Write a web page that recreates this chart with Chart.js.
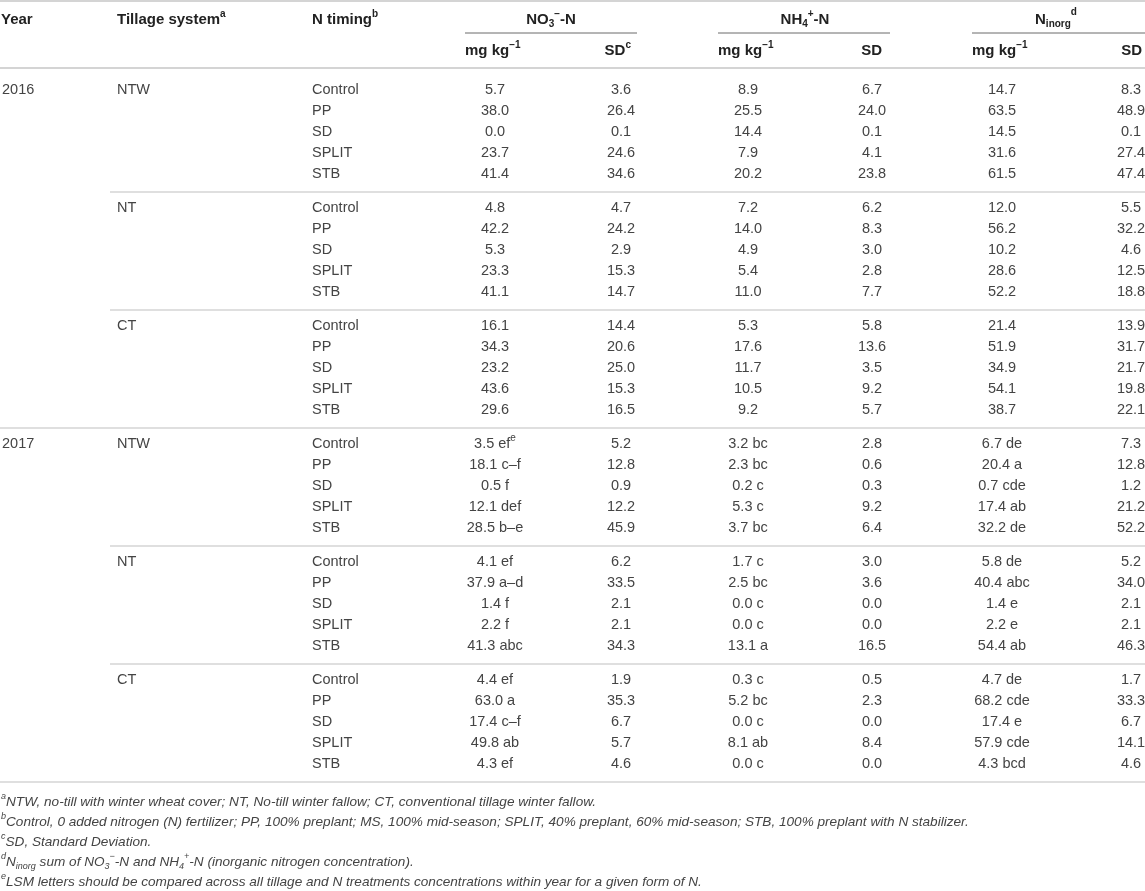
<!DOCTYPE html>
<html>
<head>
<meta charset="utf-8">
<script src="https://cdn.jsdelivr.net/npm/chart.js@4.4.1/dist/chart.umd.min.js"></script>
<style>
  html, body { margin: 0; padding: 0; background: #fff; }
  canvas { display: block; }
</style>
</head>
<body>
<canvas id="tbl" width="1145" height="891"></canvas>
<script>
const years = ["2016", "2017"];
const tillages = ["NTW", "NT", "CT"];
const timings = ["Control", "PP", "SD", "SPLIT", "STB"];

// 30 rows: 2016 NTW, NT, CT then 2017 NTW, NT, CT (Control, PP, SD, SPLIT, STB each)
const no3 = [5.7, 38.0, 0.0, 23.7, 41.4, 4.8, 42.2, 5.3, 23.3, 41.1, 16.1, 34.3, 23.2, 43.6, 29.6,
             3.5, 18.1, 0.5, 12.1, 28.5, 4.1, 37.9, 1.4, 2.2, 41.3, 4.4, 63.0, 17.4, 49.8, 4.3];
const no3Sd = [3.6, 26.4, 0.1, 24.6, 34.6, 4.7, 24.2, 2.9, 15.3, 14.7, 14.4, 20.6, 25.0, 15.3, 16.5,
               5.2, 12.8, 0.9, 12.2, 45.9, 6.2, 33.5, 2.1, 2.1, 34.3, 1.9, 35.3, 6.7, 5.7, 4.6];
const nh4 = [8.9, 25.5, 14.4, 7.9, 20.2, 7.2, 14.0, 4.9, 5.4, 11.0, 5.3, 17.6, 11.7, 10.5, 9.2,
             3.2, 2.3, 0.2, 5.3, 3.7, 1.7, 2.5, 0.0, 0.0, 13.1, 0.3, 5.2, 0.0, 8.1, 0.0];
const nh4Sd = [6.7, 24.0, 0.1, 4.1, 23.8, 6.2, 8.3, 3.0, 2.8, 7.7, 5.8, 13.6, 3.5, 9.2, 5.7,
               2.8, 0.6, 0.3, 9.2, 6.4, 3.0, 3.6, 0.0, 0.0, 16.5, 0.5, 2.3, 0.0, 8.4, 0.0];
const ninorg = [14.7, 63.5, 14.5, 31.6, 61.5, 12.0, 56.2, 10.2, 28.6, 52.2, 21.4, 51.9, 34.9, 54.1, 38.7,
                6.7, 20.4, 0.7, 17.4, 32.2, 5.8, 40.4, 1.4, 2.2, 54.4, 4.7, 68.2, 17.4, 57.9, 4.3];
const ninorgSd = [8.3, 48.9, 0.1, 27.4, 47.4, 5.5, 32.2, 4.6, 12.5, 18.8, 13.9, 31.7, 21.7, 19.8, 22.1,
                  7.3, 12.8, 1.2, 21.2, 52.2, 5.2, 34.0, 2.1, 2.1, 46.3, 1.7, 33.3, 6.7, 14.1, 4.6];
// LSM letters (2017 only)
const no3Lsm = ["", "", "", "", "", "", "", "", "", "", "", "", "", "", "",
                "ef", "c–f", "f", "def", "b–e", "ef", "a–d", "f", "f", "abc", "ef", "a", "c–f", "ab", "ef"];
const nh4Lsm = ["", "", "", "", "", "", "", "", "", "", "", "", "", "", "",
                "bc", "bc", "c", "c", "bc", "c", "bc", "c", "c", "a", "c", "bc", "c", "ab", "c"];
const ninorgLsm = ["", "", "", "", "", "", "", "", "", "", "", "", "", "", "",
                   "de", "a", "cde", "ab", "de", "de", "abc", "e", "e", "ab", "de", "cde", "e", "cde", "bcd"];

// layout
const W = 1145, H = 891;
const colX = [495, 621, 748, 872, 1002, 1131];
const rowY = i => { let g = Math.floor(i / 5); return 90 + 118 * g + 21 * (i % 5); };

function cellParts(v, lsm, i, k) {
    let t = v.toFixed(1) + (lsm ? " " + lsm : "");
    let p = [[t, ""]];
    if (i == 15 && k == 0) p.push(["e", "sup"]);   // footnote marker, first 2017 NO3 cell only
    return p;
}

// build text points from the arrays
let cells = [];
for (let i = 0; i < 30; i++) {
    let y = rowY(i);
    if (i % 15 == 0) cells.push({x: 2, y: y, parts: [[years[i / 15], ""]], align: "left"});
    if (i % 5 == 0) cells.push({x: 117, y: y, parts: [[tillages[Math.floor(i / 5) % 3], ""]], align: "left"});
    cells.push({x: 312, y: y, parts: [[timings[i % 5], ""]], align: "left"});
    let cols = [[no3[i], no3Lsm[i]], [no3Sd[i], ""], [nh4[i], nh4Lsm[i]], [nh4Sd[i], ""],
                [ninorg[i], ninorgLsm[i]], [ninorgSd[i], ""]];
    cols.forEach((c, k) => {
        cells.push({x: colX[k], y: y, parts: cellParts(c[0], c[1], i, k), align: "center"});
    });
}

// header cells
let heads = [
    {x: 1, y: 20, parts: [["Year", ""]], align: "left"},
    {x: 117, y: 20, parts: [["Tillage system", ""], ["a", "sup"]], align: "left"},
    {x: 312, y: 20, parts: [["N timing", ""], ["b", "sup"]], align: "left"},
    {x: 551, y: 20, parts: [["NO", ""], ["3", "sub"], ["−", "sup"], ["-N", ""]], align: "center"},
    {x: 805, y: 20, parts: [["NH", ""], ["4", "sub"], ["+", "sup"], ["-N", ""]], align: "center"},
    {x: 1056, y: 20, parts: [["N", ""], ["inorg", "sub"], ["d", "supw"]], align: "center"},
    {x: 465, y: 51, parts: [["mg kg", ""], ["−1", "sup"]], align: "left"},
    {x: 631, y: 51, parts: [["SD", ""], ["c", "sup"]], align: "right"},
    {x: 718, y: 51, parts: [["mg kg", ""], ["−1", "sup"]], align: "left"},
    {x: 882, y: 51, parts: [["SD", ""]], align: "right"},
    {x: 972, y: 51, parts: [["mg kg", ""], ["−1", "sup"]], align: "left"},
    {x: 1142, y: 51, parts: [["SD", ""]], align: "right"},
];

let notes = [
    [["a", "sup"], ["NTW, no-till with winter wheat cover; NT, No-till winter fallow; CT, conventional tillage winter fallow.", ""]],
    [["b", "sup"], ["Control, 0 added nitrogen (N) fertilizer; PP, 100% preplant; MS, 100% mid-season; SPLIT, 40% preplant, 60% mid-season; STB, 100% preplant with N stabilizer.", ""]],
    [["c", "sup"], ["SD, Standard Deviation.", ""]],
    [["d", "sup"], ["N", ""], ["inorg", "sub"], [" sum of NO", ""], ["3", "sub"], ["−", "sup"], ["-N and NH", ""], ["4", "sub"], ["+", "sup"], ["-N (inorganic nitrogen concentration).", ""]],
    [["e", "sup"], ["LSM letters should be compared across all tillage and N treatments concentrations within year for a given form of N.", ""]],
];
let noteCells = notes.map((p, k) => ({x: 1, y: 802 + 20 * k, parts: p, align: "left"}));

function fontFor(kind, size, weight, style) {
    let s = (kind == "" ? size : Math.round(size * 0.68));
    return (style || "") + " " + (weight || "normal") + " " + s + "px 'Liberation Sans', Arial, sans-serif";
}

function drawRich(ctx, parts, x, y, align, size, weight, style) {
    let widths = parts.map(p => { ctx.font = fontFor(p[1], size, weight, style); return ctx.measureText(p[0]).width; });
    let total = widths.reduce((a, b) => a + b, 0);
    let cx = align == "center" ? x - total / 2 : (align == "right" ? x - total : x);
    parts.forEach((p, k) => {
        ctx.font = fontFor(p[1], size, weight, style);
        let dy = 0;
        if (p[1] == "sup") dy = -size * 0.38;
        if (p[1] == "supw") dy = -size * 0.5;
        if (p[1] == "sub") dy = size * 0.3;
        ctx.fillText(p[0], cx, y + dy);
        cx += widths[k];
    });
}

const tablePlugin = {
    id: "tablePlugin",
    afterDatasetsDraw(chart) {
        let ctx = chart.ctx;
        let xs = chart.scales.x, ys = chart.scales.y;
        ctx.save();
        // rules
        const rule = (x0, x1, y, color, w) => {
            ctx.strokeStyle = color;
            ctx.lineWidth = w;
            ctx.beginPath();
            ctx.moveTo(xs.getPixelForValue(x0), ys.getPixelForValue(y));
            ctx.lineTo(xs.getPixelForValue(x1), ys.getPixelForValue(y));
            ctx.stroke();
        };
        rule(0, W, 1, "#d4d4d4", 2);
        rule(465, 637, 33, "#6a6a6a", 1);
        rule(718, 890, 33, "#6a6a6a", 1);
        rule(972, W, 33, "#6a6a6a", 1);
        rule(0, W, 68, "#d4d4d4", 2);
        for (let g = 0; g < 6; g++) {
            let y = rowY(g * 5 + 4) + 18;
            let full = (g == 2 || g == 5);
            rule(full ? 0 : 110, W, y, "#d4d4d4", 1.5);
        }
        ctx.textBaseline = "middle";
        chart.data.datasets.forEach((ds, d) => {
            let meta = chart.getDatasetMeta(d);
            ds.data.forEach((pt, k) => {
                let el = meta.data[k];
                ctx.fillStyle = ds.textColor;
                drawRich(ctx, pt.parts, el.x, el.y, pt.align, ds.textSize, ds.textWeight, ds.textStyle);
            });
        });
        ctx.restore();
    }
};

new Chart(document.getElementById("tbl"), {
    type: "scatter",
    data: {
        datasets: [
            {label: "cells", data: cells, pointRadius: 0, textColor: "#444", textSize: 14.5, textWeight: "normal"},
            {label: "head", data: heads, pointRadius: 0, textColor: "#222", textSize: 15, textWeight: "bold"},
            {label: "notes", data: noteCells, pointRadius: 0, textColor: "#444", textSize: 13.6, textWeight: "normal", textStyle: "italic"},
        ]
    },
    options: {
        responsive: false,
        animation: false,
        events: [],
        layout: {padding: 0},
        scales: {
            x: {type: "linear", min: 0, max: W, display: false},
            y: {type: "linear", min: 0, max: H, reverse: true, display: false},
        },
        plugins: {legend: {display: false}, tooltip: {enabled: false}},
    },
    plugins: [tablePlugin],
});
</script>
</body>
</html>
